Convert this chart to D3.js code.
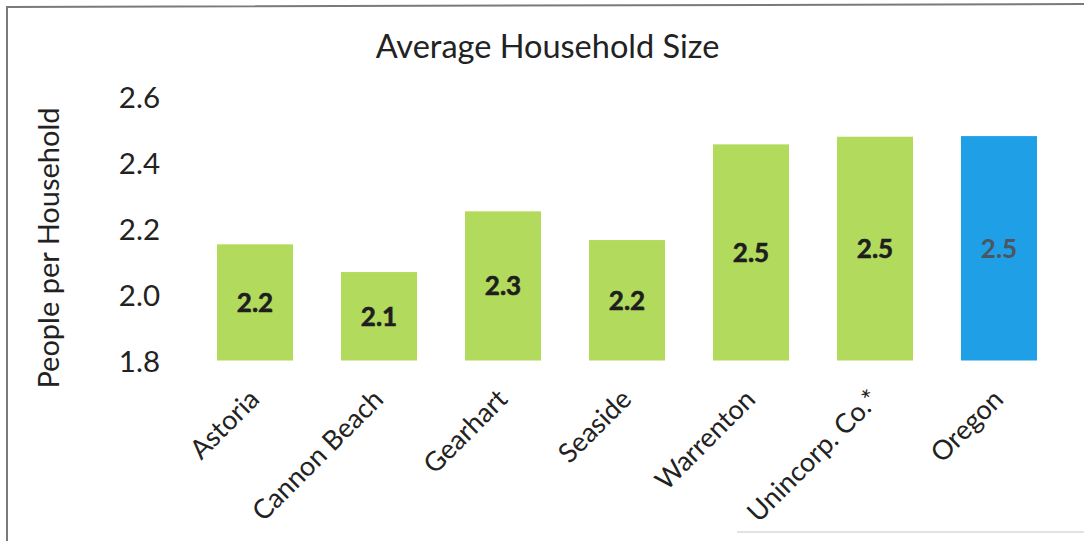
<!DOCTYPE html>
<html>
<head>
<meta charset="utf-8">
<script src="https://cdn.jsdelivr.net/npm/d3@7"></script>
<style>
  html, body { margin: 0; padding: 0; background: #fff; }
  svg { display: block; }
  text { font-family: Lato, "Open Sans", sans-serif; fill: #222; }
</style>
</head>
<body>
<svg id="chart" width="1084" height="541"></svg>
<script>
// Average household size by place
const categories = ["Astoria", "Cannon Beach", "Gearhart", "Seaside", "Warrenton", "Unincorp. Co.*", "Oregon"];
const householdSize = [2.152, 2.068, 2.252, 2.165, 2.455, 2.478, 2.48];
const yTicks = [1.8, 2.0, 2.2, 2.4, 2.6];
const stateName = "Oregon";

const svg = d3.select("#chart");

// frame around the chart
svg.append("path")
  .attr("d", "M7,541 L7,7 L1084,4")
  .attr("fill", "none")
  .attr("stroke", "#7a7a7a")
  .attr("stroke-width", 2);
svg.append("line")
  .attr("x1", 737).attr("x2", 1084).attr("y1", 532).attr("y2", 532)
  .attr("stroke", "#e2e2e2").attr("stroke-width", 2);

const x = d3.scaleBand()
  .domain(categories)
  .range([193, 1061])
  .paddingInner(0.387)
  .paddingOuter(0.1935);

const y = d3.scaleLinear()
  .domain([1.8, 2.6])
  .range([360.5, 96.5]);

// title
svg.append("text")
  .attr("x", 547.5).attr("y", 58)
  .attr("text-anchor", "middle")
  .style("font-size", "32.5px")
  .text("Average Household Size");

// y axis title
svg.append("text")
  .attr("transform", "translate(59,248) rotate(-90)")
  .attr("text-anchor", "middle")
  .style("font-size", "29px")
  .text("People per Household");

// y axis (labels only)
const yAxis = d3.axisLeft(y)
  .tickValues(yTicks)
  .tickFormat(d3.format(".1f"))
  .tickSize(0)
  .tickPadding(0);
const gy = svg.append("g")
  .attr("transform", "translate(160,0)")
  .call(yAxis);
gy.select(".domain").remove();
gy.selectAll("text")
  .style("font-family", "Lato, sans-serif")
  .style("font-size", "29.5px")
  .attr("fill", "#222")
  .attr("dy", "0.36em");

// bars
const data = categories.map((c, i) => ({ name: c, value: householdSize[i] }));
const greenFill = "#b2da5d";
const blueFill = "#1f9fe5";

svg.append("g").selectAll("rect")
  .data(data)
  .join("rect")
  .attr("x", d => x(d.name))
  .attr("width", x.bandwidth())
  .attr("y", d => y(d.value))
  .attr("height", d => y(1.8) - y(d.value))
  .attr("fill", d => d.name === stateName ? blueFill : greenFill);

// value labels inside bars
svg.append("g").selectAll("text")
  .data(data)
  .join("text")
  .attr("x", d => x(d.name) + x.bandwidth() / 2)
  .attr("y", d => (y(d.value) + y(1.8)) / 2)
  .attr("dy", "0.36em")
  .attr("text-anchor", "middle")
  .style("font-size", "26px")
  .style("font-weight", "bold")
  .style("fill", d => d.name === stateName ? "#4d5560" : "#1e1e1e")
  .style("stroke", d => d.name === stateName ? "none" : "#1e1e1e")
  .style("stroke-width", 0.6)
  .text(d => d3.format(".1f")(d.value));

// category labels, rotated
const xAxis = d3.axisBottom(x).tickSize(0).tickPadding(0);
const gx = svg.append("g").call(xAxis);
gx.select(".domain").remove();
gx.selectAll(".tick")
  .attr("transform", d => `translate(${x(d) + x.bandwidth() / 2 + 6},401)`);
gx.selectAll("text")
  .attr("y", 0).attr("dy", 0)
  .attr("text-anchor", "end")
  .attr("transform", "rotate(-45)")
  .style("font-family", "Lato, sans-serif")
  .style("font-size", "27px")
  .attr("fill", "#222");
</script>
</body>
</html>
